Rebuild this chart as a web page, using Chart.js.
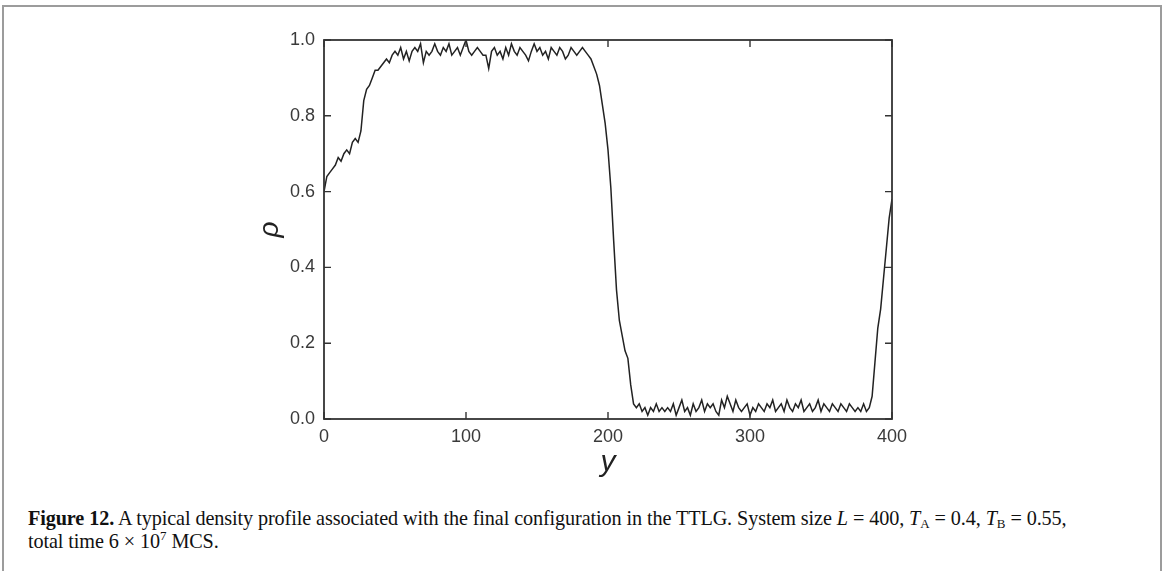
<!DOCTYPE html>
<html>
<head>
<meta charset="utf-8">
<script src="https://cdn.jsdelivr.net/npm/chart.js@4.4.0/dist/chart.umd.min.js"></script>
<style>
  html, body { margin: 0; padding: 0; background: #fff; width: 1166px; height: 571px; overflow: hidden; }
  #frame { position: absolute; left: 2px; top: 5px; width: 1160px; height: 620px; border: 2px solid #9c9c9c; border-bottom: none; box-sizing: border-box; }
  #wrap { position: absolute; left: 0; top: 0; width: 1166px; height: 500px; }
  #caption { position: absolute; left: 28px; top: 507px; width: 1120px; font-family: "Liberation Serif", "Times New Roman", serif; font-size: 20.2px; line-height: 23px; color: #111; letter-spacing: -0.1px; }
  #caption sub, #caption sup { font-size: 13px; line-height: 0; }
  #caption sub { vertical-align: -3px; }
  #caption sup { vertical-align: 8px; }
  #caption .eq { padding: 0 5px; }
</style>
</head>
<body>
<div id="frame"></div>
<div id="wrap"><canvas id="chart" width="1166" height="500"></canvas></div>
<div id="caption"><b>Figure 12.</b> A typical density profile associated with the final configuration in the TTLG. System size <i>L</i><span class="eq">=</span>400, <i>T</i><sub>A</sub><span class="eq">=</span>0.4, <i>T</i><sub>B</sub><span class="eq">=</span>0.55,<br>total time 6<span class="eq">×</span>10<sup>7</sup> MCS.</div>
<script>
// lattice position along the system (y) and the measured density at each position
const position = [
  0, 2, 4, 6, 8, 10, 12, 14, 16, 18, 20, 22, 24, 26, 28, 30, 32, 34, 36, 38,
  40, 42, 44, 46, 48, 50, 52, 54, 56, 58, 60, 62, 64, 66, 68, 70, 72, 74, 76, 78,
  80, 82, 84, 86, 88, 90, 92, 94, 96, 98, 100, 102, 104, 106, 108, 110, 112, 114, 116, 118,
  120, 122, 124, 126, 128, 130, 132, 134, 136, 138, 140, 142, 144, 146, 148, 150, 152, 154, 156, 158,
  160, 162, 164, 166, 168, 170, 172, 174, 176, 178, 180, 182, 184, 186, 188, 190, 192, 194, 196, 198,
  200, 202, 204, 206, 208, 210, 212, 214, 216, 218, 220, 222, 224, 226, 228, 230, 232, 234, 236, 238,
  240, 242, 244, 246, 248, 250, 252, 254, 256, 258, 260, 262, 264, 266, 268, 270, 272, 274, 276, 278,
  280, 282, 284, 286, 288, 290, 292, 294, 296, 298, 300, 302, 304, 306, 308, 310, 312, 314, 316, 318,
  320, 322, 324, 326, 328, 330, 332, 334, 336, 338, 340, 342, 344, 346, 348, 350, 352, 354, 356, 358,
  360, 362, 364, 366, 368, 370, 372, 374, 376, 378, 380, 382, 384, 386, 388, 390, 392, 394, 396, 398,
  400
];
const density = [
  0.60, 0.64, 0.65, 0.66, 0.67, 0.69, 0.68, 0.70, 0.71, 0.70, 0.73, 0.74, 0.73, 0.76, 0.84, 0.87, 0.88, 0.90, 0.92, 0.92,
  0.93, 0.94, 0.95, 0.94, 0.96, 0.97, 0.96, 0.98, 0.95, 0.97, 0.945, 0.97, 0.98, 0.97, 0.99, 0.94, 0.97, 0.96, 0.97, 0.99,
  0.97, 0.96, 0.98, 0.97, 0.99, 0.96, 0.97, 0.98, 0.96, 0.98, 1.00, 0.97, 0.96, 0.97, 0.98, 0.97, 0.96, 0.96, 0.925, 0.97,
  0.98, 0.96, 0.97, 0.95, 0.98, 0.96, 0.99, 0.97, 0.96, 0.98, 0.97, 0.96, 0.945, 0.97, 0.99, 0.97, 0.98, 0.96, 0.97, 0.95,
  0.98, 0.97, 0.96, 0.98, 0.97, 0.95, 0.96, 0.98, 0.97, 0.96, 0.97, 0.98, 0.97, 0.96, 0.95, 0.93, 0.91, 0.88, 0.83, 0.78,
  0.71, 0.61, 0.47, 0.34, 0.26, 0.22, 0.18, 0.16, 0.09, 0.04, 0.03, 0.04, 0.02, 0.03, 0.01, 0.03, 0.02, 0.04, 0.02, 0.03,
  0.02, 0.03, 0.02, 0.04, 0.01, 0.03, 0.05, 0.02, 0.03, 0.01, 0.04, 0.02, 0.03, 0.05, 0.02, 0.04, 0.03, 0.04, 0.02, 0.01,
  0.05, 0.03, 0.06, 0.04, 0.02, 0.05, 0.03, 0.02, 0.03, 0.04, 0.01, 0.03, 0.02, 0.04, 0.03, 0.02, 0.04, 0.03, 0.05, 0.02,
  0.03, 0.04, 0.02, 0.05, 0.03, 0.02, 0.04, 0.03, 0.05, 0.02, 0.03, 0.04, 0.02, 0.03, 0.05, 0.02, 0.04, 0.03, 0.02, 0.04,
  0.03, 0.02, 0.04, 0.03, 0.02, 0.04, 0.03, 0.02, 0.03, 0.02, 0.04, 0.02, 0.03, 0.06, 0.15, 0.24, 0.29, 0.37, 0.45, 0.53,
  0.58
];
const xTicks = [0, 100, 200, 300, 400];
const yTicks = [0, 0.2, 0.4, 0.6, 0.8, 1.0];
const xTitle = 'y';
const yTitle = 'ρ';

const points = position.map((p, i) => ({ x: p, y: density[i] }));

const AXIS_COLOR = '#333';
const TICK_LEN = 7;

// frame around the plot, inward tick marks on all four sides, italic axis titles
const framePlugin = {
  id: 'frame',
  afterDraw(chart) {
    const { ctx, chartArea: a, scales } = chart;
    ctx.save();
    ctx.strokeStyle = AXIS_COLOR;
    ctx.lineWidth = 1.8;
    ctx.strokeRect(a.left, a.top, a.right - a.left, a.bottom - a.top);
    ctx.lineWidth = 1.4;
    ctx.beginPath();
    xTicks.forEach(v => {
      const px = scales.x.getPixelForValue(v);
      ctx.moveTo(px, a.bottom); ctx.lineTo(px, a.bottom - TICK_LEN);
      ctx.moveTo(px, a.top); ctx.lineTo(px, a.top + TICK_LEN);
    });
    yTicks.forEach(v => {
      const py = scales.y.getPixelForValue(v);
      ctx.moveTo(a.left, py); ctx.lineTo(a.left + TICK_LEN, py);
      ctx.moveTo(a.right, py); ctx.lineTo(a.right - TICK_LEN, py);
    });
    ctx.stroke();

    ctx.fillStyle = '#222';
    ctx.textAlign = 'center';
    ctx.textBaseline = 'middle';
    ctx.font = 'italic 30px "Liberation Sans", Arial, sans-serif';
    ctx.fillText(xTitle, (a.left + a.right) / 2, a.bottom + 44);
    ctx.translate(a.left - 54, (a.top + a.bottom) / 2);
    ctx.rotate(-Math.PI / 2);
    ctx.font = 'italic 28px "Liberation Sans", Arial, sans-serif';
    ctx.fillText(yTitle, 0, 0);
    ctx.restore();
  }
};

new Chart(document.getElementById('chart'), {
  type: 'line',
  data: {
    datasets: [{
      data: points,
      borderColor: '#222',
      borderWidth: 1.5,
      pointRadius: 0,
      tension: 0,
      fill: false
    }]
  },
  options: {
    responsive: false,
    animation: false,
    events: [],
    layout: { padding: { left: 254, right: 274, top: 40, bottom: 21 } },
    plugins: { legend: { display: false }, tooltip: { enabled: false } },
    scales: {
      x: {
        type: 'linear',
        min: 0, max: 400,
        afterFit(s) { s.height = 60; },
        afterBuildTicks(s) { s.ticks = xTicks.map(v => ({ value: v })); },
        grid: { display: false, drawTicks: false },
        border: { display: false },
        ticks: { padding: 7, color: '#3a3a3a', font: { family: '"Liberation Sans", Arial, sans-serif', size: 18 }, maxRotation: 0 }
      },
      y: {
        type: 'linear',
        min: 0, max: 1,
        afterFit(s) { s.width = 70; },
        afterBuildTicks(s) { s.ticks = yTicks.map(v => ({ value: v })); },
        grid: { display: false, drawTicks: false },
        border: { display: false },
        ticks: { padding: 9, color: '#3a3a3a', font: { family: '"Liberation Sans", Arial, sans-serif', size: 18 }, callback: v => v.toFixed(1) }
      }
    }
  },
  plugins: [framePlugin]
});
</script>
</body>
</html>
